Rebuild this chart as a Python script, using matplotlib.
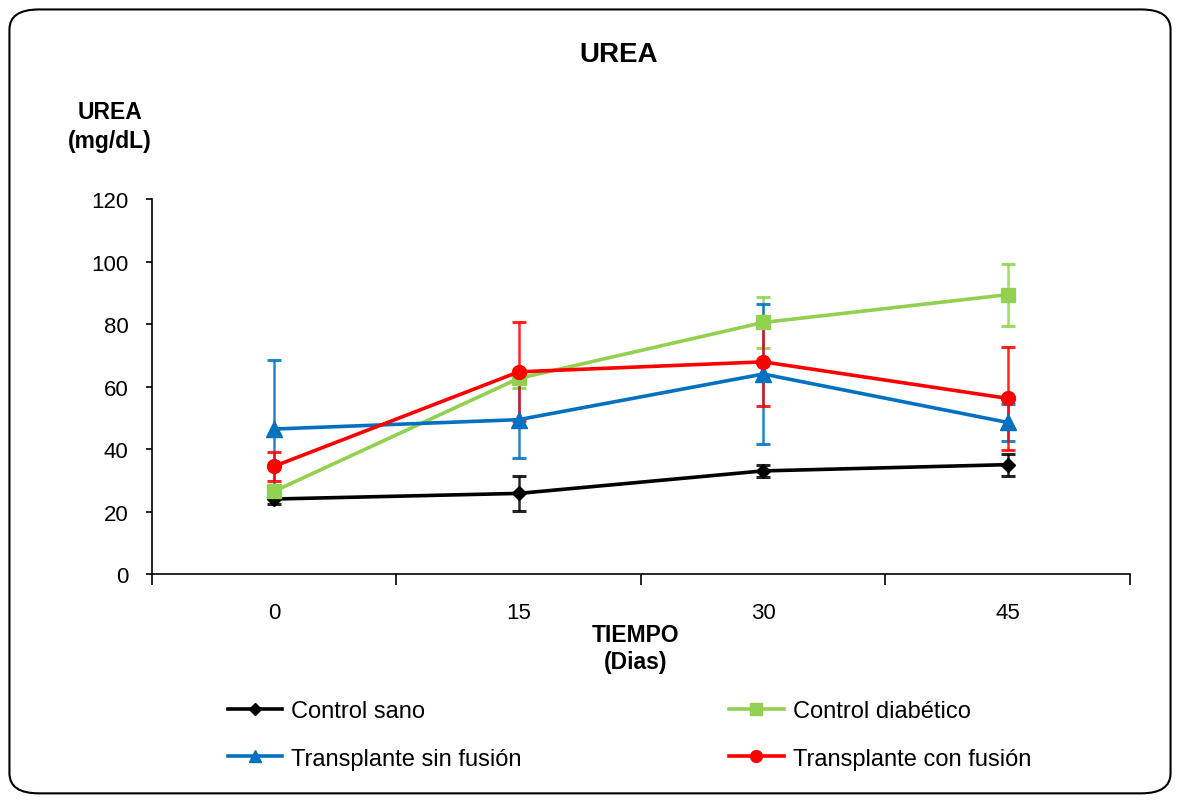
import matplotlib.pyplot as plt
from matplotlib.patches import FancyBboxPatch

plt.rcParams["font.family"] = ["Liberation Sans", "DejaVu Sans"]

dias = ["0", "15", "30", "45"]

sano = [24.0, 25.8, 33.0, 35.0]
sano_err = [1.5, 5.5, 2.0, 3.5]

diabetico = [26.5, 62.6, 80.5, 89.4]
diabetico_err = [2.0, 3.0, 8.2, 9.9]

sin_fusion = [46.4, 49.4, 64.0, 48.5]
sin_fusion_err = [22.1, 12.4, 22.4, 6.0]

con_fusion = [34.5, 64.7, 67.9, 56.2]
con_fusion_err = [4.6, 15.8, 14.0, 16.5]

series = [
    ("Control sano", sano, sano_err, "#000000", "D", 7),
    ("Control diabético", diabetico, diabetico_err, "#92D050", "s", 10),
    ("Transplante sin fusión", sin_fusion, sin_fusion_err, "#0070C0", "^", 11),
    ("Transplante con fusión", con_fusion, con_fusion_err, "#FF0000", "o", 10),
]

fig = plt.figure(figsize=(11.8, 8.04), dpi=100)
ax = fig.add_axes([0.1288, 0.2848, 0.8288, 0.4664])

x = list(range(len(dias)))
handles = []
for name, vals, err, color, mk, ms in series:
    ax.errorbar(x, vals, yerr=err, fmt="none", ecolor=color, elinewidth=1.8,
                capsize=4.7, capthick=2.2, alpha=0.85, zorder=2)
    h, = ax.plot(x, vals, color=color, lw=2.6, marker=mk, ms=ms,
                 label=name, zorder=3)
    handles.append(h)

ax.set_xlim(-0.5, 3.5)
ax.set_ylim(0, 120)
ax.set_yticks(range(0, 121, 20))
ax.tick_params(axis="y", direction="out", length=4, width=1.2,
               labelsize=16, pad=13)

# category labels sit between the boundary ticks
ax.set_xticks([-0.5, 0.5, 1.5, 2.5, 3.5])
ax.set_xticklabels([])
ax.tick_params(axis="x", which="major", direction="out", length=8, width=1.2)
ax.set_xticks(x, minor=True)
ax.set_xticklabels(dias, minor=True)
ax.tick_params(axis="x", which="minor", length=0, labelsize=16, pad=20)

for s in ["top", "right"]:
    ax.spines[s].set_visible(False)
for s in ["left", "bottom"]:
    ax.spines[s].set_linewidth(1.2)

fig.text(0.524, 0.932, "UREA", ha="center", va="center", fontsize=20,
         fontweight="bold")
fig.text(0.093, 0.842, "UREA\n(mg/dL)", ha="center", va="center",
         fontsize=16.5, fontweight="bold", linespacing=1.35)
fig.text(0.539, 0.193, "TIEMPO\n(Dias)", ha="center", va="center",
         fontsize=16.5, fontweight="bold", linespacing=1.2)

leg_kw = dict(frameon=False, fontsize=17, handlelength=2.3,
              handletextpad=0.4, labelspacing=1.08, borderaxespad=0,
              borderpad=0, markerscale=0.85)
fig.legend([handles[0], handles[2]], [series[0][0], series[2][0]],
           loc="upper left", bbox_to_anchor=(0.193, 0.128), **leg_kw)
fig.legend([handles[1], handles[3]], [series[1][0], series[3][0]],
           loc="upper left", bbox_to_anchor=(0.618, 0.128), **leg_kw)

border = FancyBboxPatch((0.008, 0.012), 0.984, 0.975,
                        boxstyle="round,pad=0,rounding_size=0.025",
                        transform=fig.transFigure, fill=False,
                        edgecolor="black", lw=1.5)
fig.patches.append(border)

fig.savefig("out.png", dpi=100)
